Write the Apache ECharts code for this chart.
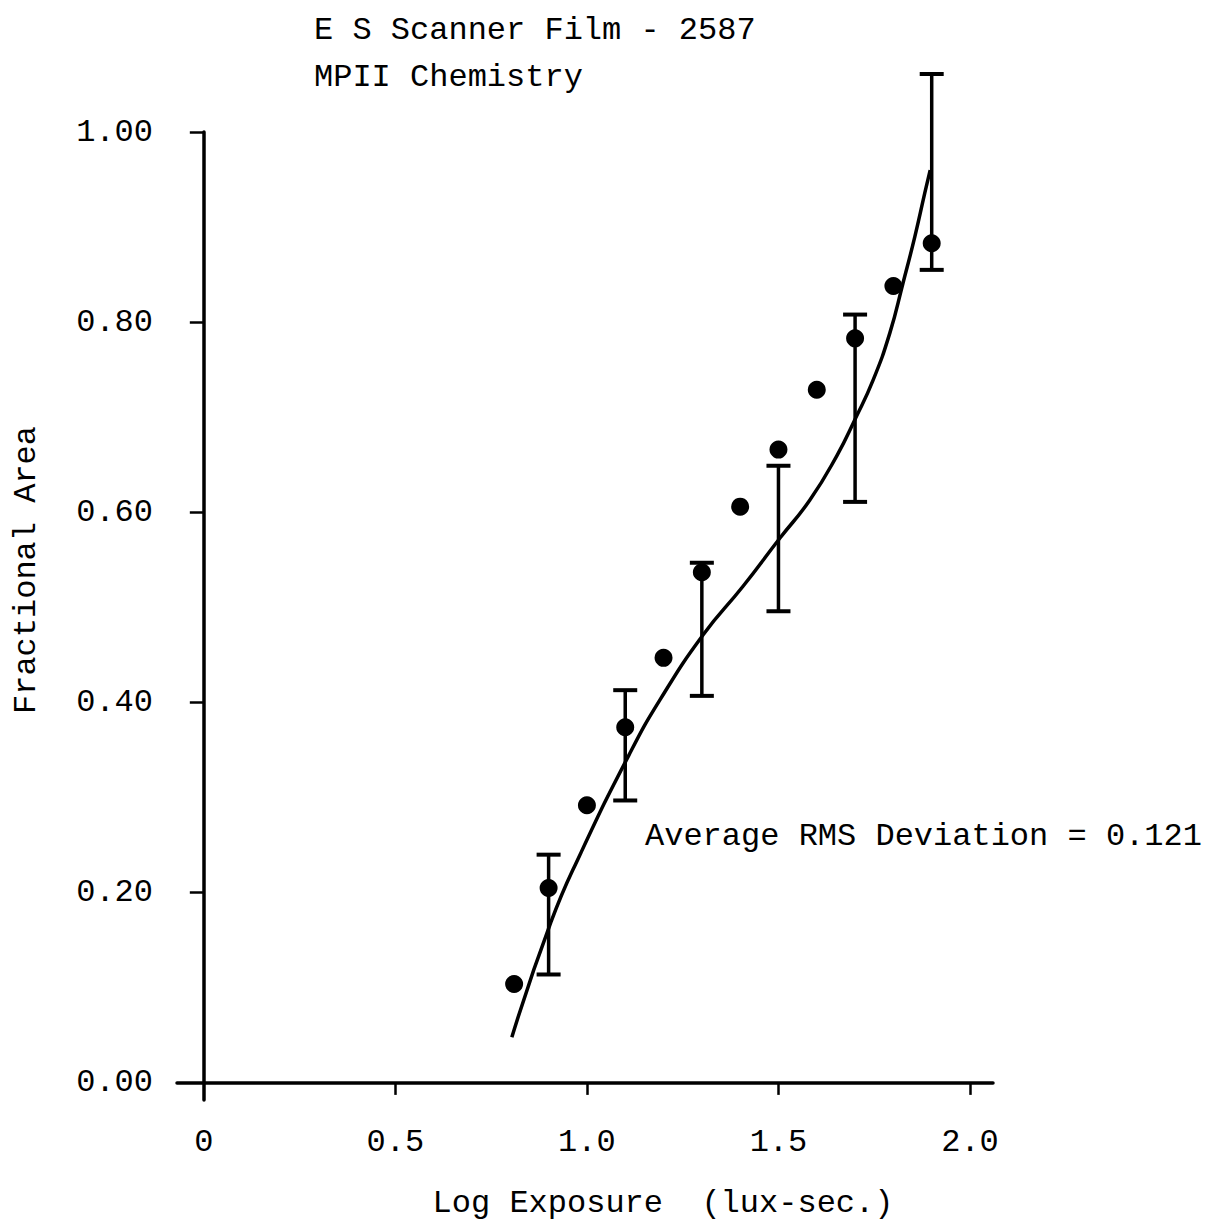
<!DOCTYPE html>
<html>
<head>
<meta charset="utf-8">
<script src="https://cdn.jsdelivr.net/npm/echarts@6/dist/echarts.min.js"></script>
<style>
html,body{margin:0;padding:0;background:#fff;}
#chart{width:1214px;height:1222px;}
</style>
</head>
<body>
<div id="chart"></div>
<script>
// ---- data ----
const titleLines = ['E S Scanner Film - 2587', 'MPII Chemistry'];
const xName = 'Log Exposure  (lux-sec.)';
const yName = 'Fractional Area';
const noteText = 'Average RMS Deviation = 0.121';

const xTicks = [0, 0.5, 1.0, 1.5, 2.0];
const yTicks = [0, 0.2, 0.4, 0.6, 0.8, 1.0];

const pointX = [0.81, 0.9, 1.0, 1.1, 1.2, 1.3, 1.4, 1.5, 1.6, 1.7, 1.8, 1.9];
const pointY = [0.104, 0.205, 0.292, 0.374, 0.447, 0.537, 0.606, 0.666, 0.729, 0.783, 0.838, 0.883];

const errX    = [0.9, 1.1, 1.3, 1.5, 1.7, 1.9];
const errLow  = [0.114, 0.297, 0.407, 0.496, 0.611, 0.855];
const errHigh = [0.240, 0.413, 0.547, 0.649, 0.808, 1.061];

const fitX = [0.804, 0.906, 0.982, 1.110, 1.191, 1.303, 1.407, 1.504, 1.582, 1.653, 1.700, 1.747, 1.791, 1.825, 1.856, 1.882, 1.896];
const fitY = [0.048, 0.169, 0.240, 0.345, 0.403, 0.471, 0.522, 0.573, 0.613, 0.660, 0.698, 0.739, 0.789, 0.841, 0.890, 0.936, 0.960];

// ---- chart ----
const INK = '#000';
const FONT = '"Liberation Mono", "DejaVu Sans Mono", monospace';
const chart = echarts.init(document.getElementById('chart'), null, {renderer: 'svg'});

const option = {
  backgroundColor: '#fff',
  animation: false,
  title: [
    {text: titleLines[0], left: 309, top: 9,
     textStyle: {fontFamily: FONT, fontSize: 32, fontWeight: 'normal', color: INK}},
    {text: titleLines[1], left: 309, top: 56,
     textStyle: {fontFamily: FONT, fontSize: 32, fontWeight: 'normal', color: INK}}
  ],
  grid: {left: 177, right: 221, top: 132, bottom: 122, containLabel: false},
  xAxis: {
    type: 'value', min: -0.07, max: 2.06,
    splitLine: {show: false},
    axisLine: {onZero: true, lineStyle: {color: INK, width: 3.5}},
    axisTick: {show: true, length: 12, inside: false, customValues: xTicks.slice(1),
               lineStyle: {color: INK, width: 2.5}},
    axisLabel: {customValues: xTicks, margin: 26, color: INK, fontFamily: FONT, fontSize: 32,
                formatter: v => v === 0 ? '0' : v.toFixed(1)}
  },
  yAxis: {
    type: 'value', min: -0.018, max: 1.0,
    splitLine: {show: false},
    axisLine: {onZero: true, lineStyle: {color: INK, width: 3.5}},
    axisTick: {show: true, length: 14, inside: false, customValues: yTicks.slice(1),
               lineStyle: {color: INK, width: 2.5}},
    axisLabel: {customValues: yTicks, margin: 24, color: INK, fontFamily: FONT, fontSize: 32,
                formatter: v => v.toFixed(2)}
  },
  graphic: [
    {type: 'text', left: 645, top: 820, z: 10,
     style: {text: noteText, fill: INK, font: '32px ' + FONT}},
    {type: 'text', x: 26, y: 570, rotation: Math.PI / 2, z: 10,
     style: {text: yName, fill: INK, font: '32px ' + FONT, textAlign: 'center', textVerticalAlign: 'middle'}},
    {type: 'text', x: 663, y: 1203, z: 10,
     style: {text: xName, fill: INK, font: '32px ' + FONT, textAlign: 'center', textVerticalAlign: 'middle'}}
  ],
  series: [
    {
      type: 'line', name: 'fit', smooth: 0.5, showSymbol: false, clip: false,
      data: fitX.map((x, i) => [x, fitY[i]]),
      lineStyle: {color: INK, width: 3.5}
    },
    {
      type: 'scatter', name: 'measured', symbol: 'circle', symbolSize: 18,
      data: pointX.map((x, i) => [x, pointY[i]]),
      itemStyle: {color: INK, opacity: 1}
    },
    {
      type: 'custom', name: 'error', clip: false,
      data: errX.map((x, i) => [x, errLow[i], errHigh[i]]),
      renderItem: function (params, api) {
        const x = api.value(0);
        const lo = api.coord([x, api.value(1)]);
        const hi = api.coord([x, api.value(2)]);
        const hw = 12;
        return {
          type: 'group',
          children: [
            {type: 'line', shape: {x1: lo[0], y1: lo[1], x2: hi[0], y2: hi[1]}, style: {stroke: INK, lineWidth: 3.5}},
            {type: 'line', shape: {x1: lo[0] - hw, y1: lo[1], x2: lo[0] + hw, y2: lo[1]}, style: {stroke: INK, lineWidth: 4}},
            {type: 'line', shape: {x1: hi[0] - hw, y1: hi[1], x2: hi[0] + hw, y2: hi[1]}, style: {stroke: INK, lineWidth: 4}}
          ]
        };
      }
    }
  ]
};
chart.setOption(option);
</script>
</body>
</html>
